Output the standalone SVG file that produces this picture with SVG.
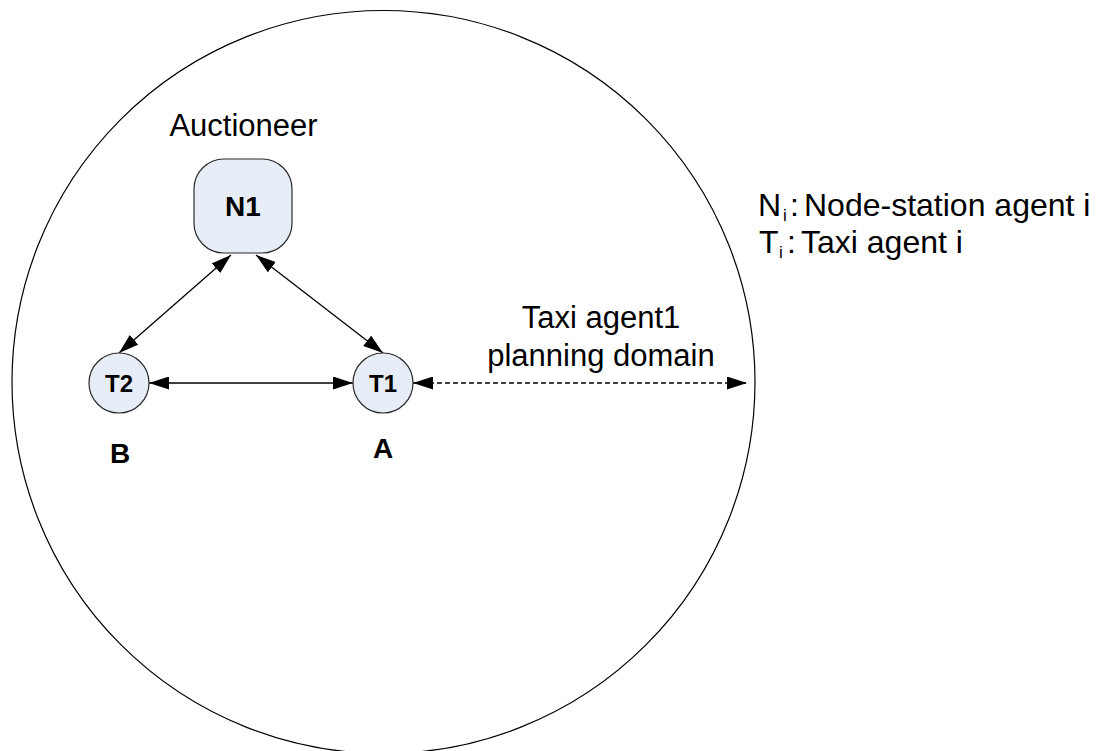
<svg xmlns="http://www.w3.org/2000/svg" width="1101" height="751" viewBox="0 0 1101 751">
<style>
.node{fill:#e7edf7;stroke:#2b2b2b;stroke-width:1.2}
.lbl{font-family:"Liberation Sans",Arial,sans-serif;fill:#000}
.b{font-weight:bold}
.con{stroke:#000;stroke-width:1.3;fill:none}
.dash{stroke-dasharray:5 3}
</style>
<defs>
<marker id="ah" markerUnits="userSpaceOnUse" markerWidth="20" markerHeight="13" refX="20" refY="6.5" orient="auto-start-reverse">
<path d="M0,0 L20,6.5 L0,13 z" fill="#000"/>
</marker>
</defs>
<rect width="1101" height="751" fill="#fff"/>
<g id="domain">
<circle cx="383.5" cy="382" r="371.5" fill="none" stroke="#000" stroke-width="1.2"/>
</g>
<g id="connectors">
<line class="con" x1="231" y1="255" x2="119" y2="353" marker-start="url(#ah)" marker-end="url(#ah)"/>
<line class="con" x1="256" y1="255" x2="383" y2="353" marker-start="url(#ah)" marker-end="url(#ah)"/>
<line class="con" x1="149" y1="383" x2="353" y2="383" marker-start="url(#ah)" marker-end="url(#ah)"/>
<line class="con dash" x1="413" y1="383" x2="747" y2="383" marker-start="url(#ah)" marker-end="url(#ah)"/>
</g>
<g id="N1">
<rect class="node" x="194" y="159" width="98" height="94" rx="30"/>
<text class="lbl b" x="243" y="216" font-size="28" text-anchor="middle">N1</text>
<text class="lbl" x="243.5" y="136" font-size="31" text-anchor="middle">Auctioneer</text>
</g>
<g id="T2">
<circle class="node" cx="119" cy="383" r="30"/>
<text class="lbl b" x="119" y="392" font-size="24" text-anchor="middle">T2</text>
<text class="lbl b" x="120" y="463" font-size="28" text-anchor="middle">B</text>
</g>
<g id="T1">
<circle class="node" cx="383" cy="383" r="30"/>
<text class="lbl b" x="383" y="392" font-size="24" text-anchor="middle">T1</text>
<text class="lbl b" x="383" y="458" font-size="28" text-anchor="middle">A</text>
</g>
<g id="domain-label">
<text class="lbl" x="601" y="328" font-size="31" text-anchor="middle">Taxi agent1</text>
<text class="lbl" x="601" y="366" font-size="31" text-anchor="middle">planning domain</text>
</g>
<g id="legend">
<text class="lbl" x="758" y="216" font-size="32">N<tspan x="783" y="221" font-size="17">i</tspan><tspan x="790" y="216">:</tspan><tspan x="804" y="216">Node-station agent i</tspan></text>
<text class="lbl" x="759" y="253" font-size="32">T<tspan x="779" y="258" font-size="17">i</tspan><tspan x="787" y="253">:</tspan><tspan x="801" y="253">Taxi agent i</tspan></text>
</g>
</svg>
